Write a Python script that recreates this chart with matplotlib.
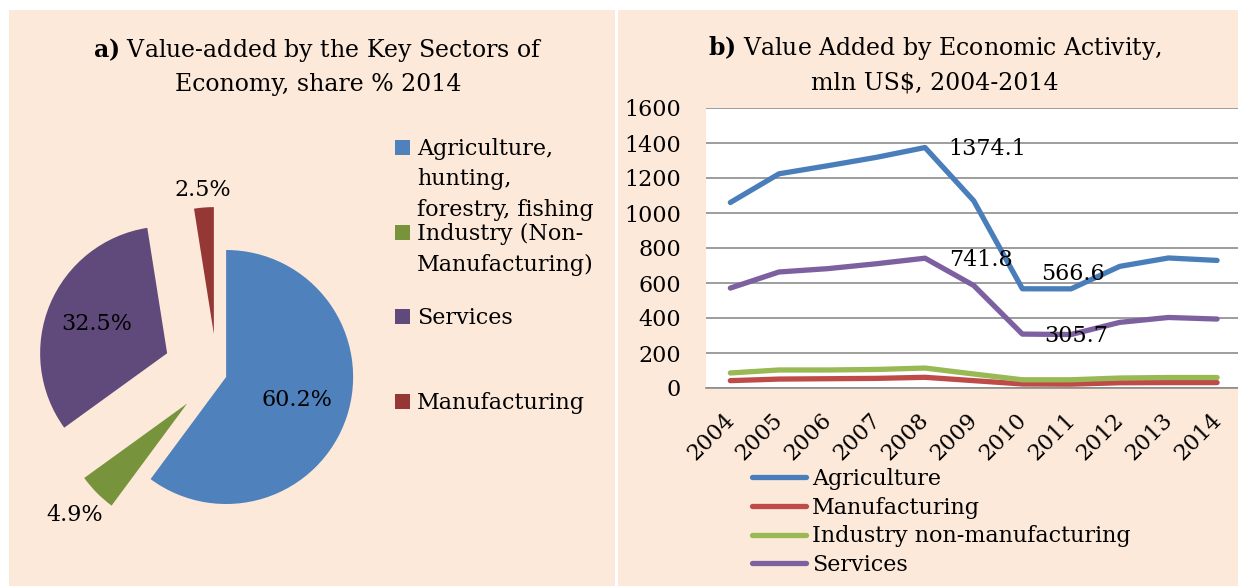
import matplotlib
matplotlib.use("Agg")
import matplotlib.pyplot as plt
from matplotlib.patches import Rectangle
from matplotlib.transforms import ScaledTranslation
import numpy as np

plt.rcParams['font.family'] = ['DejaVu Serif']
plt.rcParams['mathtext.fontset'] = 'dejavuserif'

# ------------------------------
# Data
# ------------------------------
pie_labels = ["Agriculture,\nhunting,\nforestry, fishing",
              "Industry (Non-\nManufacturing)",
              "Services",
              "Manufacturing"]
pie_shares = [60.2, 4.9, 32.5, 2.5]
pie_colors = ["#4F81BD", "#77933C", "#604A7B", "#953735"]

years = ["2004", "2005", "2006", "2007", "2008", "2009",
         "2010", "2011", "2012", "2013", "2014"]
agriculture = [1060, 1224, 1270, 1318, 1374.1, 1070, 567, 566.6, 695, 743, 729]
manufacturing = [42, 51, 53, 55, 61, 42, 23, 22, 30, 31, 31]
industry_nonman = [86, 103, 103, 106, 114, 80, 47, 47, 57, 60, 60]
services = [571, 663, 682, 710, 741.8, 586, 308, 305.7, 375, 403, 394]

line_names = ["Agriculture", "Manufacturing", "Industry non-manufacturing", "Services"]
line_colors = ["#4A7EBB", "#BE4B48", "#98B954", "#7D60A0"]

BG = "#FDE9D9"
W, H = 1238, 586

fig = plt.figure(figsize=(W / 100, H / 100), dpi=100, facecolor="white")

# panel backgrounds
fig.add_artist(Rectangle((9 / W, 0), (615 - 9) / W, (H - 10) / H,
                         transform=fig.transFigure, facecolor=BG, edgecolor="none", zorder=0))
fig.add_artist(Rectangle((618 / W, 0), (W - 618) / W, (H - 10) / H,
                         transform=fig.transFigure, facecolor=BG, edgecolor="none", zorder=0))

# ------------------------------
# a) Pie chart (axes in pixel units)
# ------------------------------
ax1 = fig.add_axes([0, 0, 0.5, 1])
ax1.patch.set_visible(False)
radius = 127
wedges, _ = ax1.pie(pie_shares, colors=pie_colors, startangle=90, counterclock=False,
                    radius=radius, center=(217, H - 374), explode=[9.6, 42, 54, 40],
                    wedgeprops=dict(linewidth=0))
ax1.set_xlim(0, W / 2)
ax1.set_ylim(0, H)
ax1.axis("off")

label_dist = [0.59, 1.25, 0.6, 1.14]
for w, share, d in zip(wedges, pie_shares, label_dist):
    tm = np.deg2rad((w.theta1 + w.theta2) / 2)
    cx, cy = w.center
    ax1.text(cx + d * radius * np.cos(tm), cy + d * radius * np.sin(tm),
             f"{share:.1f}%", ha="center", va="center", fontsize=16)

# legend drawn by hand so the square sits on the first line
legend_y = [148, 233, 317, 402]
for lab, col, y in zip(pie_labels, pie_colors, legend_y):
    ax1.add_patch(Rectangle((395, H - y - 7), 15, 15, facecolor=col, edgecolor="none"))
    ax1.text(417, H - y + 10, lab, ha="left", va="top", fontsize=16, linespacing=1.5)

fig.text(318 / W, 1 - 50 / H, r"$\mathbf{a)}$ Value-added by the Key Sectors of",
         ha="center", va="center", fontsize=17)
fig.text(318 / W, 1 - 85 / H, "Economy, share % 2014",
         ha="center", va="center", fontsize=17)

# ------------------------------
# b) Line chart
# ------------------------------
ax2 = fig.add_axes([706 / W, (H - 388) / H, (W - 706) / W, 280 / H])
ax2.set_facecolor("white")
x = np.arange(len(years))
series = [agriculture, manufacturing, industry_nonman, services]
for vals, name, col in zip(series, line_names, line_colors):
    ax2.plot(x, vals, color=col, lw=3.8, label=name, solid_capstyle="round",
             solid_joinstyle="round")

ax2.set_xlim(-0.5, 10.43)
ax2.set_ylim(0, 1600)
ax2.set_yticks(range(0, 1601, 200))
ax2.set_xticks(x)
ax2.set_xticklabels(years, rotation=45, ha="right", rotation_mode="anchor", fontsize=16)
ax2.tick_params(axis="y", labelsize=16, length=0, pad=18)
ax2.tick_params(axis="x", length=0, pad=8)
shift = ScaledTranslation(-7 / 100, -10 / 100, fig.dpi_scale_trans)
for lbl in ax2.get_xticklabels():
    lbl.set_transform(lbl.get_transform() + shift)
ax2.grid(axis="y", color="#8C8C8C", lw=1.2)
ax2.set_axisbelow(True)
for s in ["left", "right", "top"]:
    ax2.spines[s].set_visible(False)
ax2.spines["bottom"].set_color("#8C8C8C")
ax2.spines["bottom"].set_linewidth(1.2)

ax2.annotate(f"{agriculture[4]}", (4, agriculture[4]), xytext=(17, -1),
             textcoords="offset points", ha="left", va="center", fontsize=16)
ax2.annotate(f"{services[4]}", (4, services[4]), xytext=(17, -1),
             textcoords="offset points", ha="left", va="center", fontsize=16)
ax2.annotate(f"{agriculture[7]}", (7, agriculture[7]), xytext=(1, 11),
             textcoords="offset points", ha="center", va="center", fontsize=16)
ax2.annotate(f"{services[7]}", (7, services[7]), xytext=(4, -1),
             textcoords="offset points", ha="center", va="center", fontsize=16)

fig.legend(loc="upper left", bbox_to_anchor=(752 / W, 1 - 468 / H), frameon=False,
           fontsize=16, handlelength=2.45, handletextpad=0.25, labelspacing=0.30,
           borderpad=0, borderaxespad=0)

fig.text(935 / W, 1 - 48 / H, r"$\mathbf{b)}$ Value Added by Economic Activity,",
         ha="center", va="center", fontsize=17)
fig.text(935 / W, 1 - 83 / H, "mln US$, 2004-2014",
         ha="center", va="center", fontsize=17)

fig.savefig("out.png", dpi=100, facecolor="white")
